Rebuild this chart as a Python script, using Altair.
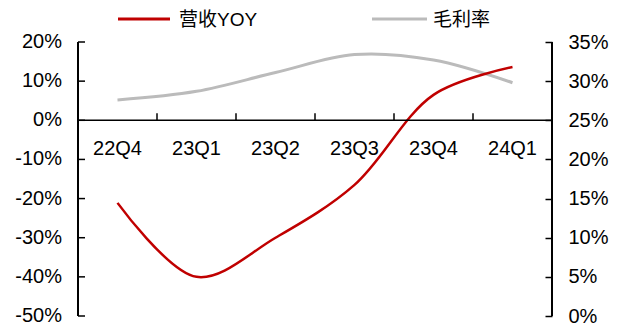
import altair as alt
import pandas as pd

# Quarterly revenue growth (left axis) and gross margin (right axis), in percent
quarters = ["22Q4", "23Q1", "23Q2", "23Q3", "23Q4", "24Q1"]
revenue_yoy = [-21.1, -40.0, -30.0, -16.5, 6.5, 13.6]
gross_margin = [27.6, 28.7, 31.1, 33.4, 32.7, 29.8]

left_ticks = [-50, -40, -30, -20, -10, 0, 10, 20]
right_ticks = [0, 5, 10, 15, 20, 25, 30, 35]
series_names = ["营收YOY", "毛利率"]

RED = "#C00000"
GREY = "#BBBBBB"
FONT = "Liberation Sans, Arial, Noto Sans CJK SC"
W, H = 474, 274
TICK = 7

df = pd.DataFrame({
    "idx": list(range(len(quarters))),
    "quarter": quarters,
    "yoy": revenue_yoy,
    "gm": gross_margin,
})
edges = alt.Data(values=[{"edge": i + 0.5} for i in range(len(quarters) - 1)])
lt = alt.Data(values=[{"v": v} for v in left_ticks])


def yl(field=None, axis=None):
    """Left-hand scale: revenue growth, -50% .. 20%."""
    sc = alt.Scale(domain=[-50, 20], nice=False, zero=False)
    return alt.Y(field, type="quantitative", scale=sc, axis=axis)


def yr(field=None, axis=None):
    """Right-hand scale: gross margin, 0% .. 35%."""
    sc = alt.Scale(domain=[0, 35], nice=False, zero=False)
    return alt.Y(field, type="quantitative", scale=sc, axis=axis)


x_scale = alt.Scale(domain=[-0.5, len(quarters) - 0.5], nice=False, zero=False)
X = alt.X("idx:Q", scale=x_scale, axis=None)

# Right axis is pulled inside by the tick length so its ticks point inward
right_axis = alt.Axis(
    values=right_ticks, orient="right", labelExpr="datum.value + '%'", title=None,
    ticks=True, tickSize=TICK, tickColor="#000", tickWidth=1.5, offset=-TICK,
    domain=False, grid=False, labelFontSize=20, labelFont=FONT, labelColor="#000",
    labelPadding=16, labelOverlap=False, labelFlush=False,
)

base = alt.Chart(df)

yoy_line = base.mark_line(color=RED, strokeWidth=2.5, interpolate="catmull-rom").encode(
    x=X, y=yl("yoy")
)
gm_line = base.mark_line(color=GREY, strokeWidth=3, interpolate="catmull-rom").encode(
    x=X, y=yr("gm", right_axis)
)

# Left axis: edge line, inward ticks and percentage labels
left_edge = base.mark_rule(color="#000", strokeWidth=1.5).encode(
    x=alt.value(0), y=alt.value(0), y2=alt.value(H)
)
left_tick_marks = alt.Chart(lt).mark_rule(color="#000", strokeWidth=1.5).encode(
    x=alt.value(0), x2=alt.value(TICK), y=yl("v")
)
left_labels = alt.Chart(lt).transform_calculate(
    label="datum.v + '%'"
).mark_text(
    fontSize=20, font=FONT, color="#000", align="right", baseline="middle"
).encode(x=alt.value(-16), y=yl("v"), text="label:N")

# Right axis line
right_edge = base.mark_rule(color="#000", strokeWidth=1.5).encode(
    x=alt.value(W), y=alt.value(0), y2=alt.value(H)
)

# Category axis sitting on the 0% line, ticks pointing up
zero_line = alt.Chart(lt).transform_filter("datum.v == 0").mark_rule(
    color="#000", strokeWidth=1.5
).encode(x=alt.value(0), x2=alt.value(W), y=yl("v"))
cat_ticks = alt.Chart(edges).transform_calculate(zero="0").mark_rule(
    color="#000", strokeWidth=1.5, y2Offset=-TICK
).encode(
    x=alt.X("edge:Q", scale=x_scale, axis=None), y=yl("zero"), y2="zero:Q",
)
cat_labels = base.mark_text(
    fontSize=20, font=FONT, color="#000", baseline="alphabetic", align="center"
).encode(x=X, y=alt.value(113), text="quarter:N")

# Legend drawn above the plot area
leg = pd.DataFrame({
    "name": series_names,
    "x0": [40, 294],
    "x1": [92, 349],
    "tx": [101, 355],
    "color": [RED, GREY],
})
leg_lines = alt.Chart(leg).mark_rule(strokeWidth=3).encode(
    x=alt.X("x0:Q", scale=None), x2="x1:Q", y=alt.value(-23),
    color=alt.Color("color:N", scale=None),
)
leg_text = alt.Chart(leg).mark_text(
    fontSize=19, font=FONT, color="#000", align="left", baseline="middle"
).encode(x=alt.X("tx:Q", scale=None), y=alt.value(-22), text="name:N")

chart = alt.layer(
    gm_line, yoy_line, left_edge, left_tick_marks, left_labels, right_edge,
    zero_line, cat_ticks, cat_labels, leg_lines, leg_text,
).resolve_scale(y="independent").properties(
    width=W, height=H,
    autosize=alt.AutoSizeParams(type="none"),
    padding={"left": 78, "top": 42, "right": 68, "bottom": 9},
).configure_view(stroke=None).configure_axis(
    labelOverlap=False, labelFontSize=20, tickColor="#000",
)

chart.save("out.html", embed_options={"renderer": "svg", "actions": False})
